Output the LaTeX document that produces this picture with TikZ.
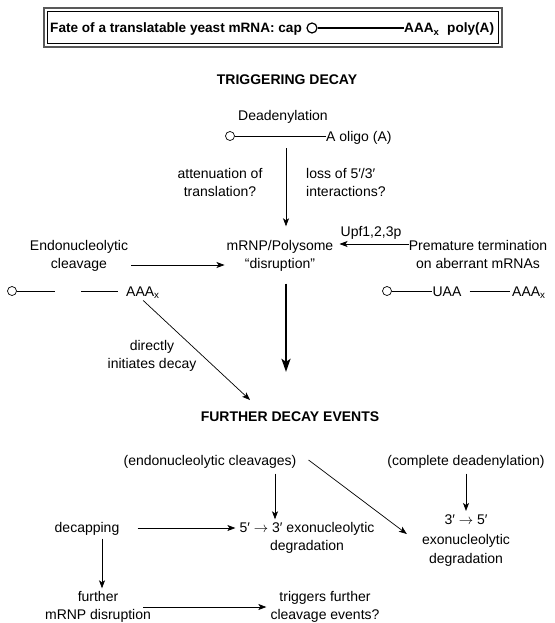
\documentclass[tikz,border=0pt]{standalone}
\usepackage{fontspec}
\setmainfont{Liberation Sans}
\usetikzlibrary{arrows.meta}
\newcommand{\rarr}{\ensuremath{\rightarrow}}
\begin{document}
\begin{tikzpicture}[x=1pt,y=-1pt,
  txt/.style={font=\fontsize{14}{18}\selectfont, inner sep=0pt, align=center},
  hd/.style={font=\fontsize{14}{17}\selectfont\bfseries, inner sep=0pt},
  ttl/.style={font=\fontsize{13.6}{16}\selectfont\bfseries, inner sep=0pt},
  capc/.style={circle, draw, line width=0.7pt, minimum size=9pt, inner sep=0pt},
  rna/.style={line width=0.8pt},
  arr/.style={-{Stealth[length=8pt,width=6pt,inset=2pt]}, line width=0.7pt},
  bigarr/.style={-{Stealth[length=13pt,width=9pt,inset=3pt]}, line width=2pt},
]
\useasboundingbox (0,0) rectangle (554,623);

% title box
\draw[line width=2pt, gray!70!black] (44,8) rectangle (502,47);
\draw[line width=0.6pt] (47.5,11.5) rectangle (498.5,43.5);
\node[ttl, anchor=base west] (title) at (50,33) {Fate of a translatable yeast mRNA: cap};
\node[capc, line width=1.2pt, minimum size=10pt] (tcap) at (312,28) {};
\node[ttl, anchor=base west] (taaa) at (404,33) {AAA\textsubscript{x}};
\node[ttl, anchor=base west] (tpoly) at (447,33) {poly(A)};
\draw[line width=1.6pt] (tcap) -- (tcap -| taaa.west);

% triggering decay
\node[hd] (trig) at (287,80) {TRIGGERING DECAY};
\node[txt] (dead) at (283,117) {Deadenylation};
\node[capc] (cap1) at (230,136) {};
\node[txt, anchor=base west] (oligo) at (326,141) {A oligo (A)};
\draw[rna] (cap1) -- (cap1 -| oligo.west);

\node[txt] (atten) at (220,182) {attenuation of\\translation?};
\node[txt, align=left, anchor=west] (loss) at (306,182) {loss of 5′/3′\\interactions?};

\node[txt] (mrnp) at (280,256) {mRNP/Polysome\\“disruption”};
\node[txt] (endo) at (79,256) {Endonucleolytic\\cleavage};
\node[txt] (prem) at (478,254) {Premature termination\\on aberrant mRNAs};

\coordinate (d1) at ([xshift=3pt]cap1 -| dead.south);
\draw[arr, shorten <=12pt, shorten >=14pt] (d1) -- (d1 |- mrnp.north);

\draw[arr, shorten <=3pt, shorten >=2pt] ([yshift=-9pt]endo.east) -- ([yshift=-9pt]mrnp.west);
\draw[arr, shorten <=0pt, shorten >=6pt] ([yshift=10pt]prem.west) -- ([yshift=12pt]mrnp.east)
  node[midway, above=4pt, txt] (upf) {Upf1,2,3p};

% left mRNA fragments
\node[capc] (cap2) at (12,291) {};
\coordinate (c2e) at (55,291);
\coordinate (c2s) at (81,291);
\node[txt, anchor=base west] (aaa1) at (126,296) {AAA\textsubscript{x}};
\draw[rna] (cap2) -- (c2e);
\draw[rna] (c2s) -- (c2s -| aaa1.west) [shorten >=8pt];

% right aberrant mRNA
\node[capc] (cap3) at (387,291) {};
\node[txt, anchor=base] (uaa) at (447,296) {UAA};
\node[txt, anchor=base west] (aaa2) at (512,296) {AAA\textsubscript{x}};
\draw[rna] (cap3) -- (cap3 -| uaa.west);
\draw[rna, shorten <=8pt, shorten >=2pt] (cap3 -| uaa.east) -- (cap3 -| aaa2.west);

% further decay heading
\node[hd] (fde) at (290,417) {FURTHER DECAY EVENTS};

\coordinate (ta) at ([xshift=6pt]mrnp.south);
\draw[bigarr, shorten <=12pt, shorten >=40pt] (ta) -- (ta |- fde.north);

\node[txt] (direct) at (152,356) {directly\\initiates decay};
\coordinate (dtip) at (250,400);
\draw[arr, shorten <=3pt] ([xshift=-2pt]aaa1.south) -- (dtip);

% further decay events
\node[txt] (endoc) at (210,462) {(endonucleolytic cleavages)};
\node[txt] (compl) at (466,462) {(complete deadenylation)};
\node[txt] (decap) at (87,529) {decapping};
\node[txt] (ft) at (307,538) {5′ \rarr\ 3′ exonucleolytic\\degradation};
\node[txt, font=\fontsize{14}{19.5}\selectfont] (tf) at (466,541) {3′ \rarr\ 5′\\exonucleolytic\\degradation};
\node[txt] (further) at (98,607) {further\\mRNP disruption};
\node[txt] (trig2) at (325,607) {triggers further\\cleavage events?};

\draw[arr, shorten <=5pt, shorten >=3pt] ([xshift=65pt]endoc.south) -- ([xshift=65pt]endoc.south |- ft.north);
\draw[arr, shorten <=5pt, shorten >=4pt] (compl.south) -- (tf.north);
\draw[arr] ([xshift=12pt,yshift=2pt]endoc.east) -- ([xshift=-15pt,yshift=7pt]tf.west);
\draw[arr, shorten <=18pt, shorten >=4pt] ([yshift=1pt]decap.east) -- ([yshift=1pt]decap.east -| ft.west);
\draw[arr, shorten <=3pt, shorten >=3pt] ([xshift=15pt]decap.south) -- ([xshift=15pt]decap.south |- further.north);
\draw[arr, shorten >=4pt] ([xshift=-8pt,yshift=0pt]further.east) -- ([yshift=0pt]further.east -| trig2.west);
\end{tikzpicture}
\end{document}
